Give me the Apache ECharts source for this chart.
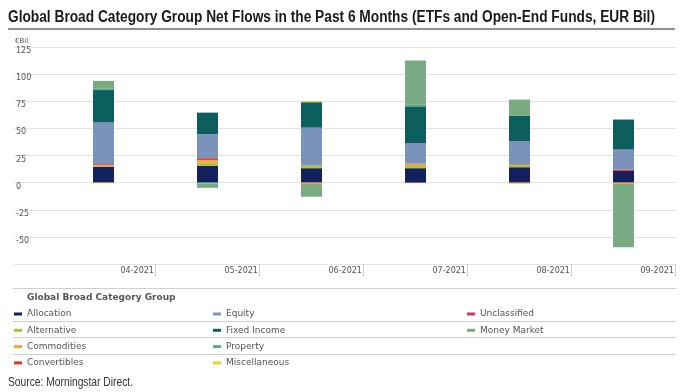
<!DOCTYPE html>
<html>
<head>
<meta charset="utf-8">
<script src="https://cdn.jsdelivr.net/npm/echarts@6/dist/echarts.min.js"></script>
<style>
html,body{margin:0;padding:0;background:#fff;}
#chart{width:685px;height:392px;}
</style>
</head>
<body>
<div id="chart"></div>
<script>
// Categories (months)
var months = ['04-2021', '05-2021', '06-2021', '07-2021', '08-2021', '09-2021'];

// Series values (EUR Bil), one array per broad category group
var allocation    = [14.7, 15.6, 13.3, 13.3, 14.2, 10.8];
var alternative   = [0,    2.8,  2.4,  2.0,  2.2,  0];
var commodities   = [1.5,  2.5, -1.3,  2.2, -0.9, -1.2];
var convertibles  = [0.8,  1.6,  0,    0,    0.5,  1.3];
var equity        = [38.6, 22.1, 35.0, 19.0, 21.2, 18.4];
var fixedIncome   = [29.7, 19.9, 23.4, 33.8, 23.7, 27.4];
var property      = [1.2, -0.8,  0,    1.5,  0,    0.6];
var miscellaneous = [-0.6, 0,    1.0,  0,    0,    0];
var unclassified  = [0,    0,    0,   -0.4,  0,    0];
var moneyMarket   = [7.3, -4.0, -11.7, 40.8, 14.7, -58.3];

// Y-axis ticks
var yMin = -75, yMax = 125, yStep = 25;

var titleText = 'Global Broad Category Group Net Flows in the Past 6 Months (ETFs and Open-End Funds, EUR Bil)';
var sourceText = 'Source: Morningstar Direct.';
var legendTitle = 'Global Broad Category Group';

var seriesNames = ['Allocation','Alternative','Commodities','Convertibles','Equity','Fixed Income','Property','Miscellaneous','Unclassified','Money Market'];
var seriesData = [allocation, alternative, commodities, convertibles, equity, fixedIncome, property, miscellaneous, unclassified, moneyMarket];
var seriesColors = ['#13225e','#afc23a','#f0a53e','#e2352e','#7b93bb','#0c5e5f','#5aa98b','#f4cc2c','#d6336c','#79aa81'];

var legendCols = [
  ['Allocation','Alternative','Commodities','Convertibles'],
  ['Equity','Fixed Income','Property','Miscellaneous'],
  ['Unclassified','Money Market']
];
var legendLefts = [14, 213, 467];

// measure text to emulate a condensed face by horizontal scaling
function measure(text, font) {
  var c = document.createElement('canvas').getContext('2d');
  c.font = font;
  return c.measureText(text).width;
}
var titleFont = 'bold 16px "Liberation Sans"';
var titleScale = 647 / measure(titleText, titleFont);
var sourceFont = '12px "Liberation Sans"';
var sourceScale = 125 / measure(sourceText, sourceFont);

var chart = echarts.init(document.getElementById('chart'), null, {renderer: 'canvas'});

var series = seriesNames.map(function (n, i) {
  return {
    name: n,
    type: 'bar',
    stack: 'total',
    xAxisIndex: 1,
    yAxisIndex: 1,
    barWidth: 21,
    itemStyle: {color: seriesColors[i]},
    emphasis: {disabled: true},
    data: seriesData[i]
  };
});

var legendStyle = {fontFamily: 'DejaVu Sans', fontSize: 9, color: '#555', lineHeight: 12};

var option = {
  animation: false,
  color: seriesColors,
  grid: [
    {left: 14, right: 9, top: 47, bottom: 128},
    {left: 51.5, right: 9.5, top: 47, bottom: 128}
  ],
  xAxis: [
    {gridIndex: 0, type: 'value', min: 0, max: 1, show: false},
    {
      gridIndex: 1, type: 'category', data: months,
      axisLine: {show: false, onZero: false},
      axisTick: {show: true, length: 12, lineStyle: {color: '#d0d0d0'},
                 interval: function (i) { return i > 0; }},
      axisLabel: {align: 'left', padding: [0, 0, 0, 17], margin: 3, fontFamily: 'DejaVu Sans', fontSize: 8, color: '#555'}
    }
  ],
  yAxis: [
    {
      gridIndex: 0, type: 'value', min: yMin, max: yMax, interval: yStep,
      name: '€Bil', nameLocation: 'end', nameGap: 2,
      nameTextStyle: {align: 'left', verticalAlign: 'bottom', fontFamily: 'DejaVu Sans', fontSize: 7, color: '#555', padding: [0, 0, 0, 1]},
      axisLine: {show: false}, axisTick: {show: false},
      splitLine: {lineStyle: {color: '#e3e3e3', width: 1}},
      axisLabel: {
        inside: true, margin: 2, verticalAlign: 'top', fontFamily: 'DejaVu Sans', fontSize: 8, color: '#555',
        formatter: function (v) { return v === yMin ? '' : String(v); }
      }
    },
    {gridIndex: 1, type: 'value', min: yMin, max: yMax, interval: yStep, show: false, splitLine: {show: false}}
  ],
  legend: legendCols.map(function (col, i) {
    return {
      data: col, orient: 'vertical', left: legendLefts[i], top: 308,
      itemWidth: 8, itemHeight: 3, itemGap: 4.3, icon: 'rect', padding: 0,
      selectedMode: false, textStyle: legendStyle
    };
  }),
  graphic: [
    {type: 'text', x: 8, y: 18, scaleX: titleScale, silent: true,
     style: {text: titleText, x: 0, y: 0, verticalAlign: 'middle', font: titleFont, fill: '#1a1a1a'}},
    {type: 'line', shape: {x1: 8, y1: 29, x2: 675, y2: 29}, style: {stroke: '#222', lineWidth: 1.2}, silent: true},
    {type: 'line', shape: {x1: 13, y1: 288.5, x2: 676, y2: 288.5}, style: {stroke: '#cfcfcf', lineWidth: 1}, silent: true},
    {type: 'line', shape: {x1: 13, y1: 321.5, x2: 676, y2: 321.5}, style: {stroke: '#cfcfcf', lineWidth: 1}, silent: true},
    {type: 'line', shape: {x1: 13, y1: 337.5, x2: 676, y2: 337.5}, style: {stroke: '#cfcfcf', lineWidth: 1}, silent: true},
    {type: 'line', shape: {x1: 13, y1: 354.5, x2: 676, y2: 354.5}, style: {stroke: '#cfcfcf', lineWidth: 1}, silent: true},
    {type: 'text', left: 27, top: 293, silent: true,
     style: {text: legendTitle, fontFamily: 'DejaVu Sans', fontWeight: 'bold', fontSize: 9, fill: '#555'}},
    {type: 'text', x: 8, y: 383, scaleX: sourceScale, silent: true,
     style: {text: sourceText, x: 0, y: 0, verticalAlign: 'middle', font: sourceFont, fill: '#333'}}
  ],
  series: series
};
chart.setOption(option);
</script>
</body>
</html>
